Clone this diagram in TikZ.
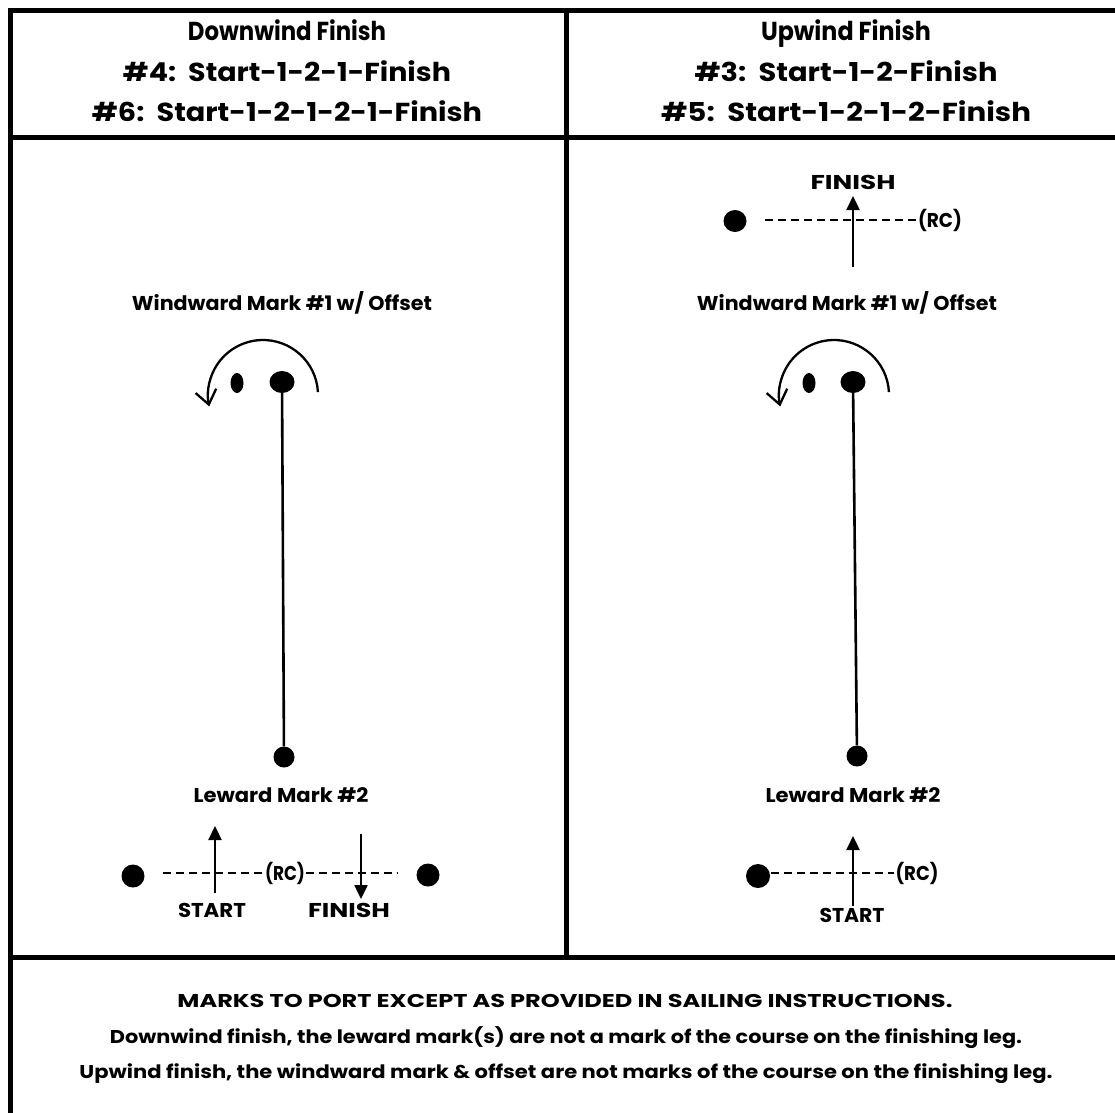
\documentclass[tikz,border=0pt]{standalone}
\usepackage{fontspec}
\setmainfont{Poppins}
\usetikzlibrary{arrows.meta,shapes.geometric,calc}
\newcommand{\fw}[2]{\resizebox{#1pt}{\height}{#2}}
\begin{document}
\begin{tikzpicture}[x=1pt,y=-1pt,
  frame/.style={line width=5pt},
  buoy/.style={ellipse,fill=black,draw=none,inner sep=0pt},
  lbl/.style={inner sep=0pt,anchor=base,font=\bfseries\fontsize{20}{24}\selectfont},
  head/.style={inner sep=0pt,anchor=base,font=\bfseries\fontsize{26}{30}\selectfont},
  foot/.style={inner sep=0pt,anchor=base,font=\bfseries\fontsize{18.5}{22}\selectfont},
  course/.style={line width=2.6pt},
  rcline/.style={line width=2.6pt,dash pattern=on 8pt off 5pt},
  solidarrow/.style={line width=2.4pt,-{Triangle[length=14pt,width=13pt]}},
  roundarrow/.style={line width=2.3pt,-{Straight Barb[length=14pt,width=21pt]}}]
\useasboundingbox (0,0) rectangle (1115,1112);
% frame
\draw[frame] (10,1130) -- (10,10.5) -- (1130,10.5);
\draw[frame] (10,137.5) -- (1130,137.5);
\draw[frame] (10,957) -- (1130,957);
\draw[frame] (566,10) -- (566,957);
% headers
\node[head] (hL1) at (287,40.5) {\fw{198}{Downwind Finish}};
\node[head] (hL2) at (287,81.5) {\fw{328}{\#4:\ \ Start-1-2-1-Finish}};
\node[head] (hL3) at (287,121.5) {\fw{390}{\#6:\ \ Start-1-2-1-2-1-Finish}};
\node[head] (hR1) at (846,40.5) {\fw{170}{Upwind Finish}};
\node[head] (hR2) at (846,81.5) {\fw{303}{\#3:\ \ Start-1-2-Finish}};
\node[head] (hR3) at (846,121.5) {\fw{370}{\#5:\ \ Start-1-2-1-2-Finish}};
% ---------- left panel ----------
\node[lbl] (wlabL) at (282,310) {\fw{300}{Windward Mark \#1 w/ Offset}};
\node[buoy,minimum width=25pt,minimum height=22pt] (wmL) at (282,382) {};
\node[buoy,minimum width=13pt,minimum height=20pt] (offL) at (237,383) {};
\coordinate (arcL) at (263,395);
\draw[roundarrow] ($(arcL)+(-3:55)$) arc[start angle=-3,end angle=-192,radius=55];
\node[buoy,minimum width=21pt,minimum height=21pt] (lmL) at (284,757) {};
\draw[course] (wmL) -- (lmL);
\node[lbl] (llabL) at (281,802) {\fw{175}{Leward Mark \#2}};
\node[buoy,minimum width=23pt,minimum height=23pt] (pinL) at (133,876) {};
\node[buoy,minimum width=23pt,minimum height=23pt] (pinR) at (428,875) {};
\node[lbl,fill=white,inner xsep=1pt] (rcL) at (285,880) {\fw{40}{(RC)}};
\coordinate (dL1) at (163,873);
\coordinate (dL2) at (398,873);
\draw[rcline] (dL1) -- (dL1 -| rcL.west);
\draw[rcline] (dL2 -| rcL.east) -- (dL2);
\coordinate (sLa) at (215,893);
\coordinate (sLb) at (215,826);
\draw[solidarrow] (sLa) -- (sLb);
\coordinate (fLa) at (361,834);
\coordinate (fLb) at (361,899);
\draw[solidarrow] (fLa) -- (fLb);
\node[lbl] (startL) at (212,917) {\fw{68}{START}};
\node[lbl] (finL) at (349,917) {\fw{82}{FINISH}};
% ---------- right panel ----------
\node[lbl] (finR) at (853,189) {\fw{85}{FINISH}};
\node[buoy,minimum width=23pt,minimum height=22pt] (topPin) at (735,221) {};
\node[lbl,inner xsep=1pt] (rcT) at (940,227) {\fw{44}{(RC)}};
\coordinate (dT1) at (765,220);
\draw[rcline] (dT1) -- (dT1 -| rcT.west);
\coordinate (fRa) at (853,267);
\coordinate (fRb) at (853,196);
\draw[solidarrow] (fRa) -- (fRb);
\node[lbl] (wlabR) at (847,310) {\fw{300}{Windward Mark \#1 w/ Offset}};
\node[buoy,minimum width=25pt,minimum height=22pt] (wmR) at (853,382) {};
\node[buoy,minimum width=13pt,minimum height=20pt] (offR) at (809,383) {};
\coordinate (arcR) at (834,395);
\draw[roundarrow] ($(arcR)+(-3:55)$) arc[start angle=-3,end angle=-192,radius=55];
\node[buoy,minimum width=21pt,minimum height=21pt] (lmR) at (857,756) {};
\draw[course] (wmR) -- (lmR);
\node[lbl] (llabR) at (853,802) {\fw{175}{Leward Mark \#2}};
\node[buoy,minimum width=24pt,minimum height=24pt] (pinB) at (758,876) {};
\node[lbl,inner xsep=1pt] (rcB) at (917,880) {\fw{43}{(RC)}};
\coordinate (dB1) at (758,873);
\draw[rcline] (dB1) -- (dB1 -| rcB.west);
\coordinate (sRa) at (853,906);
\coordinate (sRb) at (853,836);
\draw[solidarrow] (sRa) -- (sRb);
\node[lbl] (startR) at (852,922) {\fw{65}{START}};
% ---------- footer ----------
\node[foot] (n1) at (565,1007) {\fw{775}{MARKS TO PORT EXCEPT AS PROVIDED IN SAILING INSTRUCTIONS.}};
\node[foot] (n2) at (566,1043) {\fw{912}{Downwind finish, the leward mark(s) are not a mark of the course on the finishing leg.}};
\node[foot] (n3) at (566,1078) {\fw{973}{Upwind finish, the windward mark \& offset are not marks of the course on the finishing leg.}};
\end{tikzpicture}
\end{document}
